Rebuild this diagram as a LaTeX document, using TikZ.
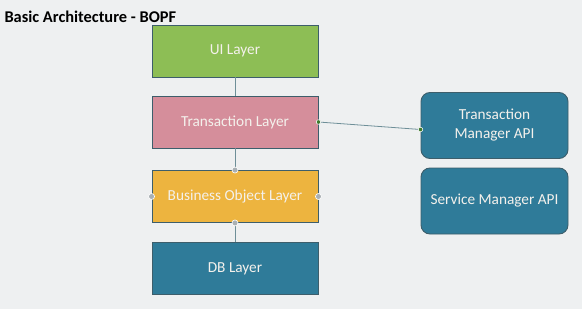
\documentclass[tikz,border=0pt]{standalone}
\usepackage{fontspec}
\setmainfont{Carlito}
\definecolor{bgc}{HTML}{EEF0F1}
\definecolor{uig}{HTML}{8DBE55}
\definecolor{trp}{HTML}{D58E9B}
\definecolor{boo}{HTML}{EDB43F}
\definecolor{dbt}{HTML}{2F7B99}
\definecolor{edgec}{HTML}{3D5E6B}
\definecolor{linec}{HTML}{6E8F98}
\definecolor{dotg}{HTML}{3F7A2E}
\definecolor{handle}{HTML}{A9B0B4}
\definecolor{txtc}{HTML}{F4F1EC}
\tikzset{
  layer/.style={draw=edgec, line width=0.9pt, minimum width=166pt, minimum height=52pt, inner sep=0pt, text=txtc, font=\fontsize{15.3}{17}\selectfont},
  api/.style={draw=edgec, line width=0.9pt, rounded corners=9pt, minimum width=147pt, minimum height=66pt, inner sep=0pt, fill=dbt, text=txtc, align=center, font=\fontsize{15.3}{19}\selectfont},
  conn/.style={draw=linec, line width=0.8pt},
  gdot/.style={circle, fill=dotg, draw=white, line width=0.5pt, inner sep=0pt, minimum size=4.5pt},
  hdot/.style={circle, fill=handle, draw=white, line width=0.6pt, inner sep=0pt, minimum size=6pt}
}
\begin{document}
\begin{tikzpicture}[x=1pt,y=1pt]
\fill[bgc] (0,0) rectangle (582,309);
\useasboundingbox (0,0) rectangle (582,309);
\node[anchor=base west, font=\bfseries\fontsize{16.4}{18}\selectfont, text=black] (title) at (1,287) {Basic Architecture - BOPF};
\node[layer, fill=uig] (ui) at (235,258) {\raisebox{-1.5pt}{UI Layer}};
\node[layer, fill=trp] (tr) at (235,187) {\raisebox{-1.5pt}{Transaction Layer}};
\node[layer, fill=boo] (bo) at (235,112.5) {\raisebox{-1.5pt}{Business Object Layer}};
\node[layer, fill=dbt] (db) at (235,40.5) {\raisebox{-1.5pt}{DB Layer}};
\node[api] (tm) at (494.5,183.5) {Transaction\\Manager API};
\node[api] (sm) at (494.5,108) {Service Manager API};
\draw[conn] (ui.south) -- (tr.north);
\draw[conn] (tr.south) -- (bo.north);
\draw[conn] (bo.south) -- (db.north);
\coordinate (tmw) at ([yshift=-4pt]tm.west);
\draw[conn] (tr.east) -- (tmw);
\node[gdot] (d1) at (tr.east) {};
\node[gdot] (d2) at (tmw) {};
\node[hdot] (h1) at (bo.north) {};
\node[hdot] (h2) at (bo.south) {};
\node[hdot] (h3) at (bo.west) {};
\node[hdot] (h4) at (bo.east) {};
\end{tikzpicture}
\end{document}
